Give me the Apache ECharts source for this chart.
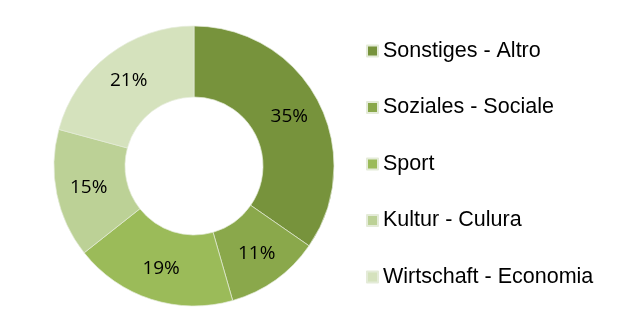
<!DOCTYPE html>
<html>
<head>
<meta charset="utf-8">
<script src="https://cdn.jsdelivr.net/npm/echarts@6/dist/echarts.min.js"></script>
<style>
html,body{margin:0;padding:0;background:#fff;}
#c{width:626px;height:330px;}
</style>
</head>
<body>
<div id="c"></div>
<script>
var categories = ['Sonstiges - Altro', 'Soziales - Sociale', 'Sport', 'Kultur - Culura', 'Wirtschaft - Economia'];
var values = [35, 11, 19, 15, 21];
var colors = ['#77933C', '#8AA84B', '#9BBB59', '#BCD196', '#D5E2BD'];

var chart = echarts.init(document.getElementById('c'), null, {renderer: 'canvas'});
chart.setOption({
  backgroundColor: '#ffffff',
  animation: false,
  color: colors,
  legend: {
    orient: 'vertical',
    left: 361,
    top: 35,
    padding: 5,
    itemWidth: 11,
    itemHeight: 11,
    itemGap: 34.5,
    icon: 'rect',
    data: categories,
    textStyle: {
      fontFamily: 'Liberation Sans, Arial, sans-serif',
      fontSize: 21.5,
      lineHeight: 22,
      color: '#000'
    }
  },
  series: [{
    type: 'pie',
    center: [194, 166],
    radius: [69, 140],
    startAngle: 90,
    clockwise: true,
    avoidLabelOverlap: false,
    itemStyle: {borderColor: '#e4ebd8', borderWidth: 0.7},
    label: {
      show: true,
      position: 'inside',
      formatter: '{c}%',
      fontFamily: 'Open Sans, Lato, sans-serif',
      fontSize: 19,
      color: '#000'
    },
    labelLine: {show: false},
    emphasis: {disabled: true},
    data: categories.map(function (n, i) { return {name: n, value: values[i]}; })
  }]
});
</script>
</body>
</html>
